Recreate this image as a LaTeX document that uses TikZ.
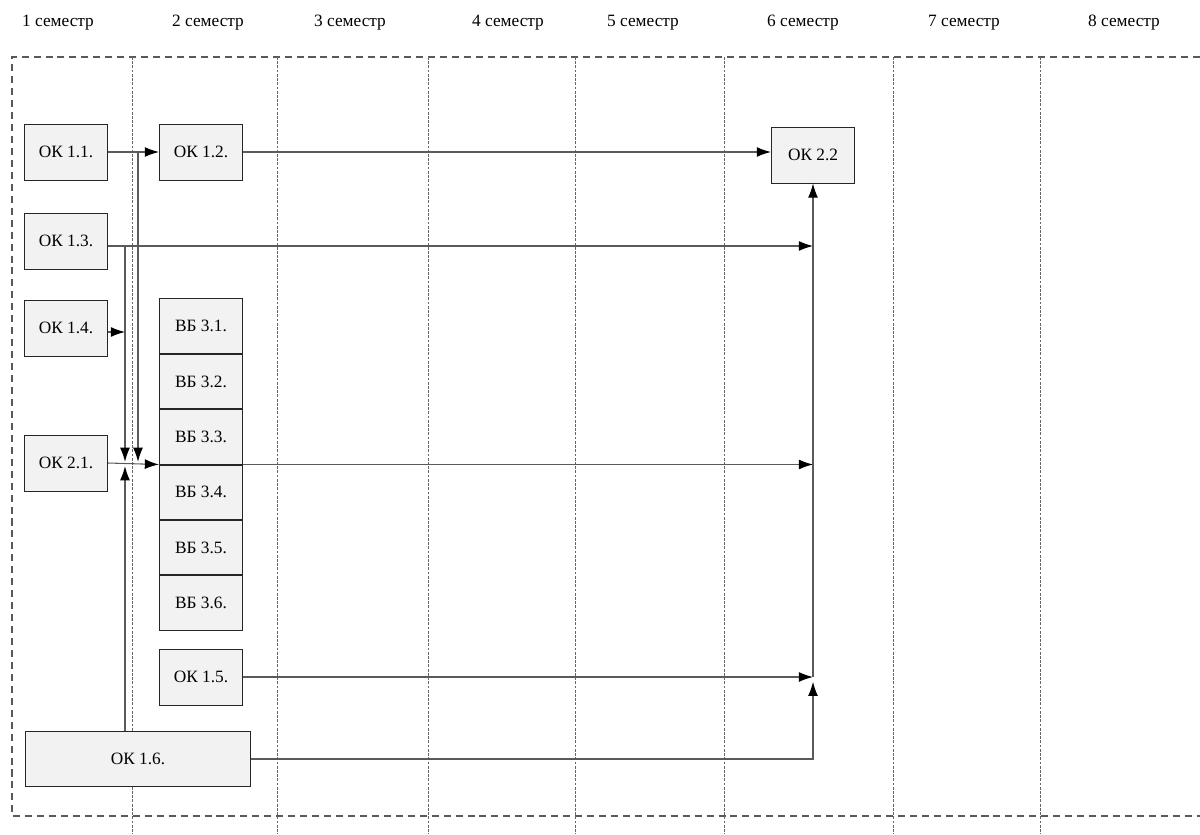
\documentclass[tikz,border=0pt]{standalone}
\usepackage{xcolor}
\usepackage{fontspec}
\setmainfont{Liberation Serif}
\usepackage{tikz}
\usetikzlibrary{arrows, arrows.meta, calc, positioning}

\definecolor{boxfill}{HTML}{F2F2F2}
\definecolor{linegray}{HTML}{5A5A5A}

\begin{document}
\begin{tikzpicture}[x=0.025cm, y=-0.025cm, >={Latex[length=10pt,width=7pt,color=black]},
    subj/.style={draw=black!85, fill=boxfill, line width=0.7pt, minimum width=2.08cm, minimum height=1.4cm, inner sep=0pt, font=\fontsize{12.3}{14}\selectfont},
    vbox/.style={subj, minimum height=1.36cm},
    link/.style={->, draw=linegray, line width=0.75pt},
    sep/.style={draw=black!60, line width=0.5pt, dash pattern=on 2pt off 1pt}]
    \useasboundingbox (0,0) rectangle (1200,834);

    % Semesters
    \foreach \i/\x in {1/58, 2/208, 3/350, 4/508, 5/643, 6/803, 7/964, 8/1124}
        \node [font=\fontsize{12.3}{14}\selectfont] (sem\i) at (\x,23) {\i\ семестр};

    % Frame and column borders
    \draw [draw=black!65, line width=0.75pt, dash pattern=on 5pt off 3.5pt] (1200,57) -- (12,57) -- (12,816) -- (1200,816);
    \foreach \x in {132, 277, 428, 575, 724, 893, 1040}
        \draw [sep] (\x,57) -- (\x,834);

    % First column
    \node [subj] (ok11) at (66,152) {ОК 1.1.};
    \node [subj] (ok13) at (66,241) {ОК 1.3.};
    \node [subj] (ok14) at (66,328) {ОК 1.4.};
    \node [subj] (ok21) at (66,463) {ОК 2.1.};

    % Second column
    \node [subj] (ok12) at (201,152) {ОК 1.2.};
    \node [vbox] (vb31) at (201,326) {ВБ 3.1.};
    \node [vbox, below=0pt of vb31] (vb32) {ВБ 3.2.};
    \node [vbox, below=0pt of vb32] (vb33) {ВБ 3.3.};
    \node [vbox, below=0pt of vb33] (vb34) {ВБ 3.4.};
    \node [vbox, below=0pt of vb34] (vb35) {ВБ 3.5.};
    \node [vbox, below=0pt of vb35] (vb36) {ВБ 3.6.};
    \node [subj] (ok15) at (201,677) {ОК 1.5.};
    \node [subj, minimum width=5.6cm, minimum height=1.37cm] (ok16) at (138,759) {ОК 1.6.};

    % Sixth column
    \node [subj] (ok22) at (813,155) {ОК 2.2};

    % Junctions
    \coordinate (j11) at (138,152);
    \coordinate (j13) at (125,246);
    \coordinate (j14) at (125,332);
    \coordinate (m21) at (125,463);

    % Connections
    \draw [link] (ok11) -- (ok12);
    \draw [link] (ok12.east) -- (ok12.east -| ok22.west);
    \draw [link] (ok13.east |- j13) -- (j13 -| ok22.south);
    \draw [link] (j11) -- ([yshift=0.03cm]j11 |- m21);
    \draw [link] (j13) -- ([yshift=0.03cm]m21);
    \draw [link] (ok14.east |- j14) -- (j14);
    \draw [link] (ok21.east |- m21) -- (vb33.south west);
    \draw [link] (vb33.south east) -- (vb33.south east -| ok22.south);
    \draw [link] (ok16.north -| m21) -- ([yshift=-0.08cm]m21);
    \draw [link] (ok15.east) -- (ok15.east -| ok22.south);
    \draw [link] (ok16.east) -| ([yshift=-0.12cm]ok15.east -| ok22.south);
    \draw [link] (ok15.east -| ok22.south) -- (ok22.south);

\end{tikzpicture}
\end{document}
